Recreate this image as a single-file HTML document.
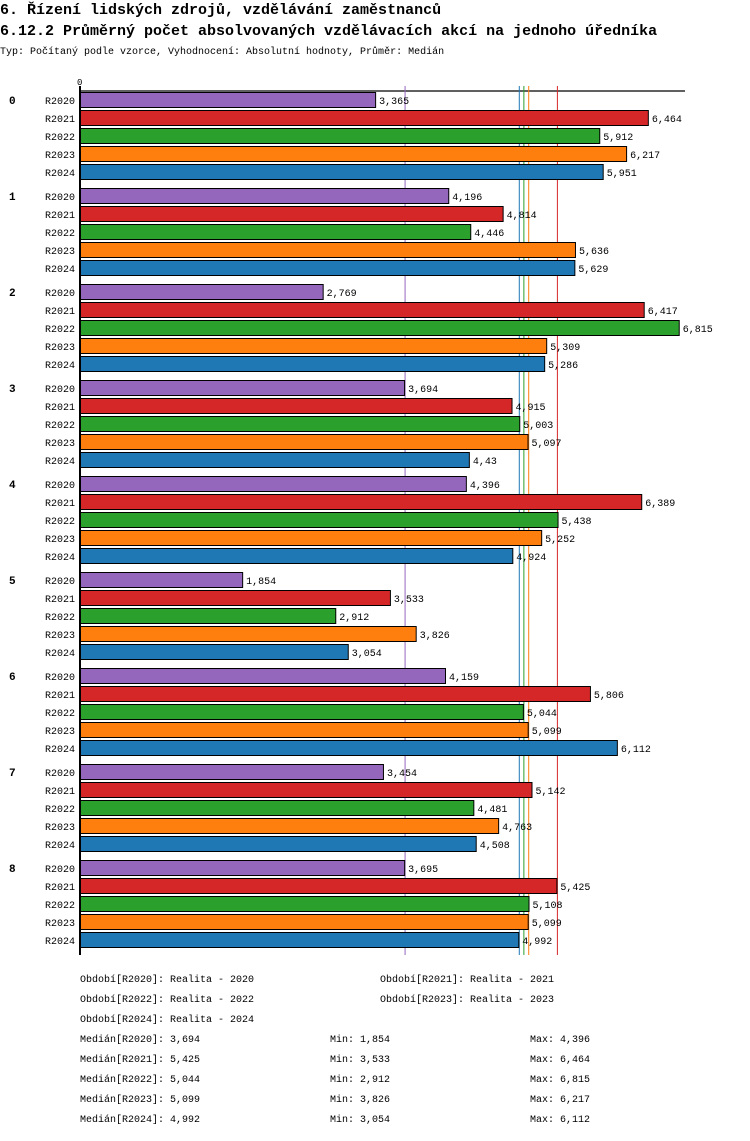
<!DOCTYPE html>
<html><head><meta charset="utf-8">
<style>
body{margin:0;background:#fff;}
svg text{font-family:"Liberation Mono","DejaVu Sans Mono",monospace;fill:#000;}
</style></head>
<body>
<svg id="chart" width="750" height="1136" xmlns="http://www.w3.org/2000/svg">
<text x="0" y="14" font-size="15" font-weight="bold">6. Řízení lidských zdrojů, vzdělávání zaměstnanců</text>
<text x="0" y="35" font-size="15" font-weight="bold">6.12.2 Průměrný počet absolvovaných vzdělávacích akcí na jednoho úředníka</text>
<text x="0" y="54" font-size="10">Typ: Počítaný podle vzorce, Vyhodnocení: Absolutní hodnoty, Průměr: Medián</text>
<g id="plot"></g>
<g id="legend"></g>
</svg>
<script>
const categories = ["0","1","2","3","4","5","6","7","8"];
const seriesNames = ["R2020","R2021","R2022","R2023","R2024"];
const r2020 = [3.365,4.196,2.769,3.694,4.396,1.854,4.159,3.454,3.695];
const r2021 = [6.464,4.814,6.417,4.915,6.389,3.533,5.806,5.142,5.425];
const r2022 = [5.912,4.446,6.815,5.003,5.438,2.912,5.044,4.481,5.108];
const r2023 = [6.217,5.636,5.309,5.097,5.252,3.826,5.099,4.763,5.099];
const r2024 = [5.951,5.629,5.286,4.43,4.924,3.054,6.112,4.508,4.992];
const medians = [3.694,5.425,5.044,5.099,4.992];
const mins = [1.854,3.533,2.912,3.826,3.054];
const maxs = [4.396,6.464,6.815,6.217,6.112];
const periodLabels = ["Realita - 2020","Realita - 2021","Realita - 2022","Realita - 2023","Realita - 2024"];

const series = [r2020,r2021,r2022,r2023,r2024];
const colors = ["#9467bd","#d62728","#2ca02c","#ff7f0e","#1f77b4"];
const NS = "http://www.w3.org/2000/svg";
const X0 = 80, PX = 88;
const xs = v => X0 + v*PX;
const yBar = (g,i) => 92 + g*96 + i*18;
const fmt = v => String(v).replace('.',',');
const plot = document.getElementById('plot');
const legend = document.getElementById('legend');
function mk(tag, attrs, parent){const e=document.createElementNS(NS,tag);for(const k in attrs)e.setAttribute(k,attrs[k]);parent.appendChild(e);return e;}

const topLine = mk('line',{x1:X0,y1:91,x2:685,y2:91,stroke:'#000','stroke-width':1.2},plot);


const zl = mk('text',{x:77,y:85,'font-size':9},plot); zl.textContent='0';



medians.forEach((m,i)=>{
  const l = mk('line',{x1:xs(m),y1:86,x2:xs(m),y2:955,stroke:colors[i],'stroke-width':1},plot);
  
  
});

categories.forEach((c,g)=>{
  const gl = mk('text',{x:9,y:yBar(g,0)+12,'font-size':11,'font-weight':'bold'},plot);
  gl.textContent=c;
  
  
  series.forEach((s,i)=>{
    const y=yBar(g,i);
    const sl = mk('text',{x:75,y:y+12,'font-size':10,'text-anchor':'end'},plot);
    sl.textContent=seriesNames[i];
    
    
    const r = mk('rect',{x:X0+0.5,y:y+0.5,width:xs(s[g])-X0-1,height:15,fill:colors[i],stroke:'#000','stroke-width':1},plot);
    
    
    const vl = mk('text',{x:xs(s[g])+3,y:y+12,'font-size':10},plot);
    vl.textContent=fmt(s[g]);
    
    
  });
});
const ax = mk('line',{x1:X0,y1:86,x2:X0,y2:955,stroke:'#000','stroke-width':2},plot);



const lp = [[80,982],[380,982],[80,1002],[380,1002],[80,1022]];
periodLabels.forEach((p,i)=>{
  const t = mk('text',{x:lp[i][0],y:lp[i][1],'font-size':10},legend);
  t.textContent='Období['+seriesNames[i]+']: '+p;
  
  
});
seriesNames.forEach((n,i)=>{
  const y=1042+i*20;
  const a = mk('text',{x:80,y:y,'font-size':10},legend); a.textContent='Medián['+n+']: '+fmt(medians[i]);
  
  
  const b = mk('text',{x:330,y:y,'font-size':10},legend); b.textContent='Min: '+fmt(mins[i]);
  
  
  const d = mk('text',{x:530,y:y,'font-size':10},legend); d.textContent='Max: '+fmt(maxs[i]);
  
  
});
</script>
</body></html>
